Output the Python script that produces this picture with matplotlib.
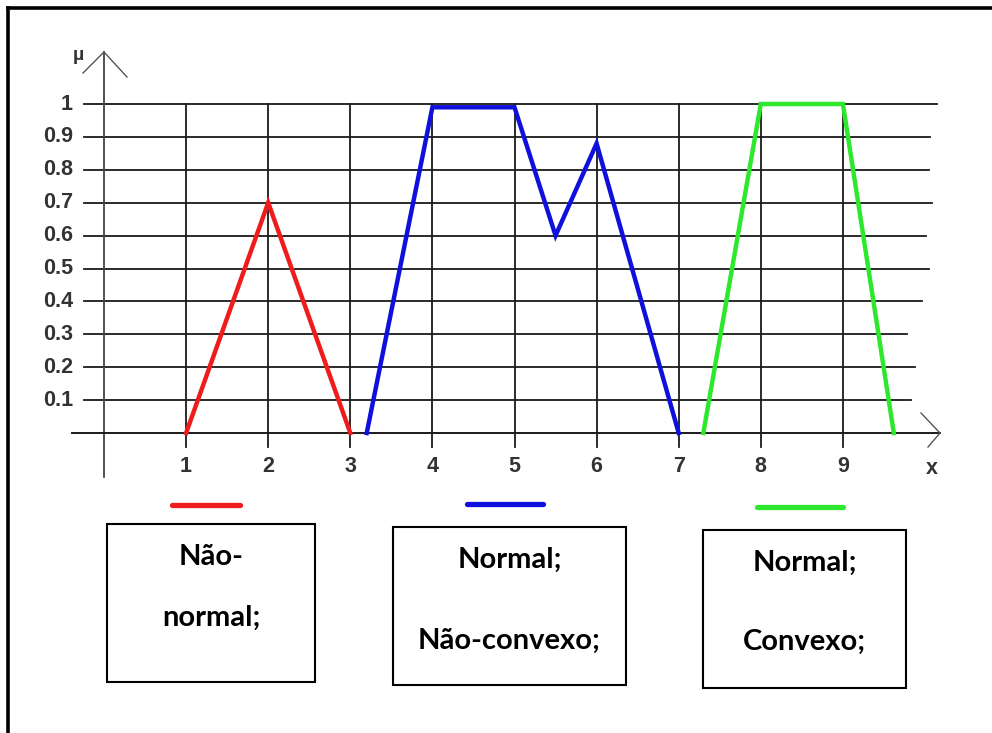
import matplotlib
matplotlib.use("Agg")
import matplotlib.pyplot as plt
from matplotlib.patches import Rectangle

# membership functions
red_x = [1, 2, 3]
red_y = [0, 0.7, 0]
blue_x = [3.2, 4, 5, 5.5, 6, 7]
blue_y = [0, 0.99, 0.99, 0.6, 0.88, 0]
green_x = [7.3, 8, 9, 9.62]
green_y = [0, 1, 1, 0]

y_ticks = [0.1, 0.2, 0.3, 0.4, 0.5, 0.6, 0.7, 0.8, 0.9, 1.0]
y_labels = ["0.1", "0.2", "0.3", "0.4", "0.5", "0.6", "0.7", "0.8", "0.9", "1"]
x_ticks = [1, 2, 3, 4, 5, 6, 7, 8, 9]
x_labels = ["1", "2", "3", "4", "5", "6", "7", "8", "9"]

box_texts = [["Não-", "normal;"], ["Normal;", "Não-convexo;"], ["Normal;", "Convexo;"]]
colors = ["#ee1c1c", "#1010dd", "#2ee82e"]

# pixel helpers: the whole figure is one axes, 1 unit in x = 82.1 px, 1 unit in y = 329 px
X0, Y0, SX, SY = 104, 433, 82.1, 329


def px(x):
    return (x - X0) / SX


def py(y):
    return (Y0 - y) / SY


fig = plt.figure(figsize=(9.92, 7.33), dpi=100)
ax = fig.add_axes([0, 0, 1, 1])
ax.set_xlim(px(0), px(992))
ax.set_ylim(py(733), py(0))
ax.axis("off")

# outer frame (only top and left edge are visible)
ax.plot([px(8), px(992)], [py(8), py(8)], color="black", lw=2.6)
ax.plot([px(8), px(8)], [py(8), py(733)], color="black", lw=2.6)

# horizontal grid lines, ragged right ends as in the picture
grid_ends = [911, 915, 907, 922, 929, 926, 932, 929, 930, 937]
for yv, xe in zip(y_ticks, grid_ends):
    ax.plot([px(84), px(xe)], [yv, yv], color="#1a1a1a", lw=1.3)

# vertical grid lines with small ticks below the x axis
for xv in x_ticks:
    ax.plot([xv, xv], [py(447), 1.0], color="#1a1a1a", lw=1.3)

# axes with open arrow heads
ax.plot([0, 0], [py(477), py(52)], color="#444444", lw=1.3)
ax.plot([px(83), 0, px(127)], [py(73), py(52), py(77)], color="#555555", lw=1.0)
ax.plot([px(72), px(940)], [0, 0], color="#1a1a1a", lw=1.4)
ax.plot([px(921), px(940), px(928)], [py(413), py(433), py(447)], color="#555555", lw=1.0)

lab = dict(family="Liberation Sans", fontweight="bold", fontsize=15.5, color="#333333")
for yv, t in zip(y_ticks, y_labels):
    ax.text(px(73), yv, t, ha="right", va="center", **lab)
for xv, t in zip(x_ticks, x_labels):
    ax.text(xv, py(466), t, ha="center", va="center", **lab)
ax.text(px(932), py(469), "x", ha="center", va="center", **lab)
ax.text(px(78), py(56), "µ", ha="center", va="center",
        family="Liberation Sans", fontweight="bold", fontsize=14, color="#333333")

# the three fuzzy sets
for xs, ys, c in zip([red_x, blue_x, green_x], [red_y, blue_y, green_y], colors):
    ax.plot(xs, ys, color=c, lw=3.2, solid_joinstyle="miter")

# legend strokes and boxes underneath
strokes = [(172, 240, 505), (467, 543, 504), (757, 843, 507)]
boxes = [(107, 524, 315, 682), (393, 527, 626, 685), (703, 530, 906, 688)]
text_rows = [(557, 618), (560, 641), (563, 642)]
for (a, b, yy), (l, t, r, bt), c, lines, rows in zip(strokes, boxes, colors, box_texts, text_rows):
    ax.plot([px(a), px(b)], [py(yy), py(yy)], color=c, lw=3.8, solid_capstyle="round")
    ax.add_patch(Rectangle((px(l), py(bt)), px(r) - px(l), py(t) - py(bt),
                           fill=False, edgecolor="black", lw=1.5))
    for s, ry in zip(lines, rows):
        ax.text(px((l + r) / 2), py(ry), s, ha="center", va="center",
                family="Lato", fontweight="bold", fontsize=21, color="black")

fig.savefig("out.png", dpi=100)
